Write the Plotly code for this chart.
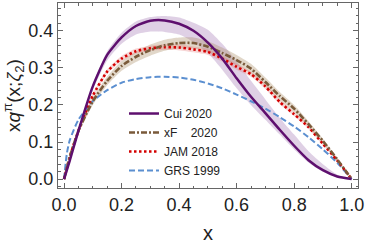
import plotly.graph_objects as go

x_grid = [0.0, 0.01, 0.02, 0.05, 0.1, 0.15, 0.2, 0.25, 0.3, 0.35, 0.4, 0.45, 0.5,
          0.55, 0.6, 0.65, 0.7, 0.75, 0.8, 0.85, 0.9, 0.95, 1.0]

cui_2020 = [0.0, 0.025, 0.05, 0.13, 0.25, 0.335, 0.382, 0.413, 0.427, 0.428, 0.419,
            0.400, 0.368, 0.325, 0.272, 0.222, 0.178, 0.133, 0.090, 0.051, 0.024, 0.007, 0.0]
cui_lo = [0.0, 0.023, 0.047, 0.125, 0.24, 0.32, 0.365, 0.39, 0.398, 0.397, 0.39,
          0.37, 0.34, 0.295, 0.245, 0.20, 0.16, 0.12, 0.08, 0.045, 0.02, 0.005, 0.0]
cui_hi = [0.0, 0.027, 0.053, 0.135, 0.255, 0.345, 0.395, 0.425, 0.437, 0.44, 0.436,
          0.422, 0.403, 0.365, 0.318, 0.265, 0.215, 0.165, 0.12, 0.075, 0.04, 0.012, 0.0]

xf_2020 = [0.0, 0.03, 0.06, 0.13, 0.21, 0.265, 0.305, 0.33, 0.348, 0.361, 0.367,
           0.367, 0.357, 0.340, 0.321, 0.298, 0.262, 0.224, 0.19, 0.148, 0.103, 0.053, 0.0]
xf_err = [0.0, 0.003, 0.005, 0.008, 0.01, 0.012, 0.013, 0.014, 0.015, 0.015, 0.015,
          0.015, 0.015, 0.015, 0.014, 0.013, 0.012, 0.011, 0.01, 0.008, 0.006, 0.004, 0.0]

jam_2018 = [0.0, 0.03, 0.06, 0.13, 0.225, 0.29, 0.325, 0.345, 0.353, 0.356, 0.355,
            0.350, 0.343, 0.325, 0.303, 0.283, 0.250, 0.208, 0.175, 0.14, 0.095, 0.05, 0.0]
jam_err = [0.0, 0.002, 0.003, 0.004, 0.005, 0.006, 0.007, 0.007, 0.007, 0.008, 0.008,
           0.008, 0.008, 0.008, 0.008, 0.007, 0.007, 0.006, 0.005, 0.005, 0.004, 0.002, 0.0]

grs_1999 = [0.0, 0.07, 0.105, 0.16, 0.21, 0.24, 0.26, 0.27, 0.275, 0.276, 0.274,
            0.268, 0.258, 0.245, 0.228, 0.21, 0.19, 0.167, 0.142, 0.113, 0.08, 0.044, 0.0]

x_ticks = [0.0, 0.2, 0.4, 0.6, 0.8, 1.0]
x_tick_text = ["0.0", "0.2", "0.4", "0.6", "0.8", "1.0"]
y_ticks = [0.0, 0.1, 0.2, 0.3, 0.4]
y_tick_text = ["0.0", "0.1", "0.2", "0.3", "0.4"]

fig = go.Figure()

def band(lo, hi, color):
    fig.add_trace(go.Scatter(
        x=x_grid + x_grid[::-1], y=hi + lo[::-1], fill="toself",
        fillcolor=color, line=dict(width=0, shape="spline", smoothing=0.6),
        mode="lines", showlegend=False, hoverinfo="skip"))

band(cui_lo, cui_hi, "rgba(150,100,170,0.30)")
band([a - e for a, e in zip(xf_2020, xf_err)], [a + e for a, e in zip(xf_2020, xf_err)],
     "rgba(170,140,100,0.35)")
band([a - e for a, e in zip(jam_2018, jam_err)], [a + e for a, e in zip(jam_2018, jam_err)],
     "rgba(230,120,120,0.30)")

fig.add_trace(go.Scatter(x=x_grid, y=grs_1999, mode="lines", name="GRS 1999",
                         line=dict(color="#5b8fd0", width=2, dash="6px,3px",
                                   shape="spline", smoothing=0.6)))
fig.add_trace(go.Scatter(x=x_grid, y=jam_2018, mode="lines", name="JAM 2018",
                         line=dict(color="#d40000", width=2.6, dash="2.5px,2.5px",
                                   shape="spline", smoothing=0.6)))
fig.add_trace(go.Scatter(x=x_grid, y=xf_2020, mode="lines", name="xF    2020",
                         line=dict(color="#7a5a3a", width=2.6, dash="6px,2px,2px,2px",
                                   shape="spline", smoothing=0.6)))
fig.add_trace(go.Scatter(x=x_grid, y=cui_2020, mode="lines", name="Cui 2020",
                         line=dict(color="#5e0f6e", width=2.5,
                                   shape="spline", smoothing=0.6)))

axis_common = dict(showline=True, linecolor="#666666", linewidth=1, mirror="ticks",
                   ticks="inside", tickcolor="#666666", showgrid=False, zeroline=False,
                   tickfont=dict(family="Liberation Sans, Arial", size=18, color="#222222"))

fig.update_xaxes(range=[-0.021, 1.022], tickvals=x_ticks, ticktext=x_tick_text,
                 ticklen=5, minor=dict(dtick=0.05, ticklen=2.5, ticks="inside",
                                       tickcolor="#666666"),
                 title=dict(text="x", font=dict(family="Liberation Sans, Arial", size=20,
                                                color="#222222"), standoff=12),
                 **axis_common)
fig.update_yaxes(range=[-0.024, 0.475], tickvals=y_ticks, ticktext=y_tick_text,
                 ticklen=5, minor=dict(dtick=0.02, ticklen=2.5, ticks="inside",
                                       tickcolor="#666666"),
                 title=dict(text="x<i>q</i><sup>π</sup>(x;<i>ζ</i><sub>2</sub>)",
                            font=dict(family="Liberation Sans, Arial", size=19,
                                      color="#222222"), standoff=6),
                 **axis_common)

fig.update_layout(
    width=366, height=245, margin=dict(l=58, r=8, t=3, b=57),
    paper_bgcolor="white", plot_bgcolor="white",
    legend=dict(x=0.22, y=0.481, xanchor="left", yanchor="top", traceorder="reversed",
                bgcolor="rgba(0,0,0,0)", tracegroupgap=0,
                font=dict(family="Liberation Sans, Arial", size=12, color="#222222")),
)

fig.write_html("out.html", config={"displayModeBar": False},
               post_script="document.body.style.margin='0';document.body.style.overflow='hidden';")
